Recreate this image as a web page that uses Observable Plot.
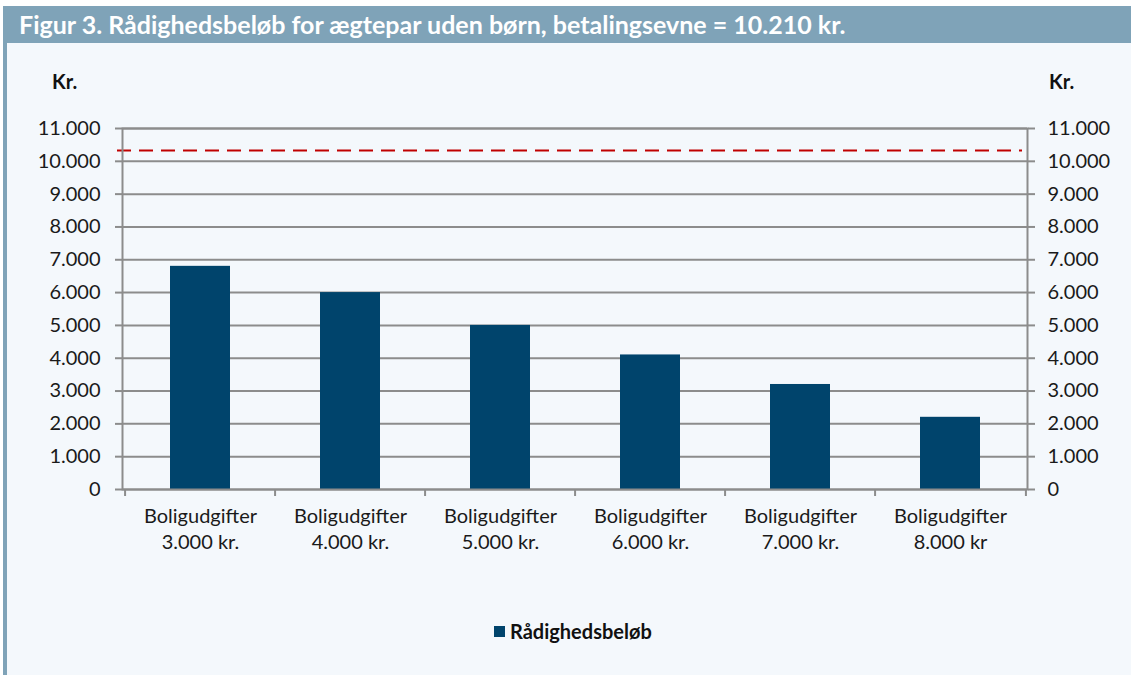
<!DOCTYPE html>
<html>
<head>
<meta charset="utf-8">
<script src="https://cdn.jsdelivr.net/npm/d3@7"></script>
<script src="https://cdn.jsdelivr.net/npm/@observablehq/plot@0.6"></script>
<style>
  body { margin: 0; background: #ffffff; font-family: Lato, "Open Sans", sans-serif; }
  #wrap { position: relative; width: 1131px; height: 675px; overflow: hidden; background: #ffffff; }
  #header { position: absolute; left: 3px; top: 6px; width: 1128px; height: 37px; background: #7fa3b8;
            color: #ffffff; font: bold 25px Lato, sans-serif; line-height: 37px; box-sizing: border-box; padding-left: 16px; white-space: nowrap; }
  #panel { position: absolute; left: 3px; top: 43px; width: 1128px; height: 632px; background: #f4f8fc;
           border-left: 4px solid #7fa3b8; box-sizing: border-box; }
  .kr { position: absolute; top: 69px; font: bold 20px Lato, sans-serif; color: #111; }
  #chart { position: absolute; left: 0; top: 43px; }
  #legend { position: absolute; top: 619px; left: 494px; font: bold 20px Lato, sans-serif; color: #111; display: flex; align-items: center; white-space: nowrap; }
  #legend .sw { width: 11px; height: 11px; background: #00446c; margin-right: 5px; }
</style>
</head>
<body>
<div id="wrap">
  <div id="header">Figur 3. Rådighedsbeløb for ægtepar uden børn, betalingsevne = 10.210 kr.</div>
  <div id="panel"></div>
  <div class="kr" style="left:52px">Kr.</div>
  <div class="kr" style="left:1049px">Kr.</div>
  <div id="chart"></div>
  <div id="legend"><span class="sw"></span><span>Rådighedsbeløb</span></div>
</div>
<script>
// ---- data ----
const categories = [
  "Boligudgifter\n3.000 kr.",
  "Boligudgifter\n4.000 kr.",
  "Boligudgifter\n5.000 kr.",
  "Boligudgifter\n6.000 kr.",
  "Boligudgifter\n7.000 kr.",
  "Boligudgifter\n8.000 kr"
];
const raadighedsbeloeb = [6800, 6000, 5000, 4100, 3200, 2200];
const betalingsevne = 10330; // dashed reference line as drawn
const yTicks = [0, 1000, 2000, 3000, 4000, 5000, 6000, 7000, 8000, 9000, 10000, 11000];
const seriesName = "Rådighedsbeløb";

const rows = categories.map((c, i) => ({cat: c, value: raadighedsbeloeb[i], series: seriesName}));

const da = d3.formatLocale({decimal: ",", thousands: ".", grouping: [3], currency: ["", " kr."]});
const fmt = da.format(",d");

const W = 1131, H = 580, mL = 122, mR = 104, mT = 85, mB = 134;
const step = (W - mL - mR) / categories.length;

const plot = Plot.plot({
  width: W,
  height: H,
  marginLeft: mL,
  marginRight: mR,
  marginTop: mT,
  marginBottom: mB,
  style: {background: "transparent", fontFamily: "Lato, sans-serif", fontSize: "20px", color: "#1a1a1a"},
  x: {domain: categories, paddingInner: 0.6, paddingOuter: 0.3, label: null},
  y: {domain: [0, 11000], label: null},
  marks: [
    Plot.gridY(yTicks, {stroke: "#8c8c8c", strokeOpacity: 1, strokeWidth: 2}),
    Plot.barY(rows, {x: "cat", y: "value", fill: "#00446c"}),
    Plot.ruleY([betalingsevne], {stroke: "#c00000", strokeWidth: 2, strokeDasharray: "14,8", insetLeft: -5, insetRight: 5}),
    Plot.frame({stroke: "#8c8c8c", strokeWidth: 2}),
    Plot.axisY({anchor: "left", ticks: yTicks, tickFormat: fmt, tickSize: 7, tickPadding: 15,
      stroke: "#8c8c8c", strokeWidth: 2, color: "#1a1a1a", label: null, fontSize: 20}),
    Plot.axisY({anchor: "right", ticks: yTicks, tickFormat: fmt, tickSize: 7, tickPadding: 13,
      stroke: "#8c8c8c", strokeWidth: 2, color: "#1a1a1a", label: null, fontSize: 20}),
    Plot.axisX({anchor: "bottom", ticks: categories, tickSize: 7, tickFormat: () => "",
      stroke: "#8c8c8c", strokeWidth: 2, dx: -step / 2, label: null}),
    Plot.axisX({anchor: "bottom", ticks: categories.slice(-1), tickSize: 7, tickFormat: () => "",
      stroke: "#8c8c8c", strokeWidth: 2, dx: step / 2, label: null}),
    Plot.axisX({anchor: "bottom", ticks: categories, tickSize: 0, tickPadding: 15, lineHeight: 1.3,
      color: "#1a1a1a", label: null, fontSize: 20})
  ]
});
document.getElementById("chart").appendChild(plot);
</script>
</body>
</html>
